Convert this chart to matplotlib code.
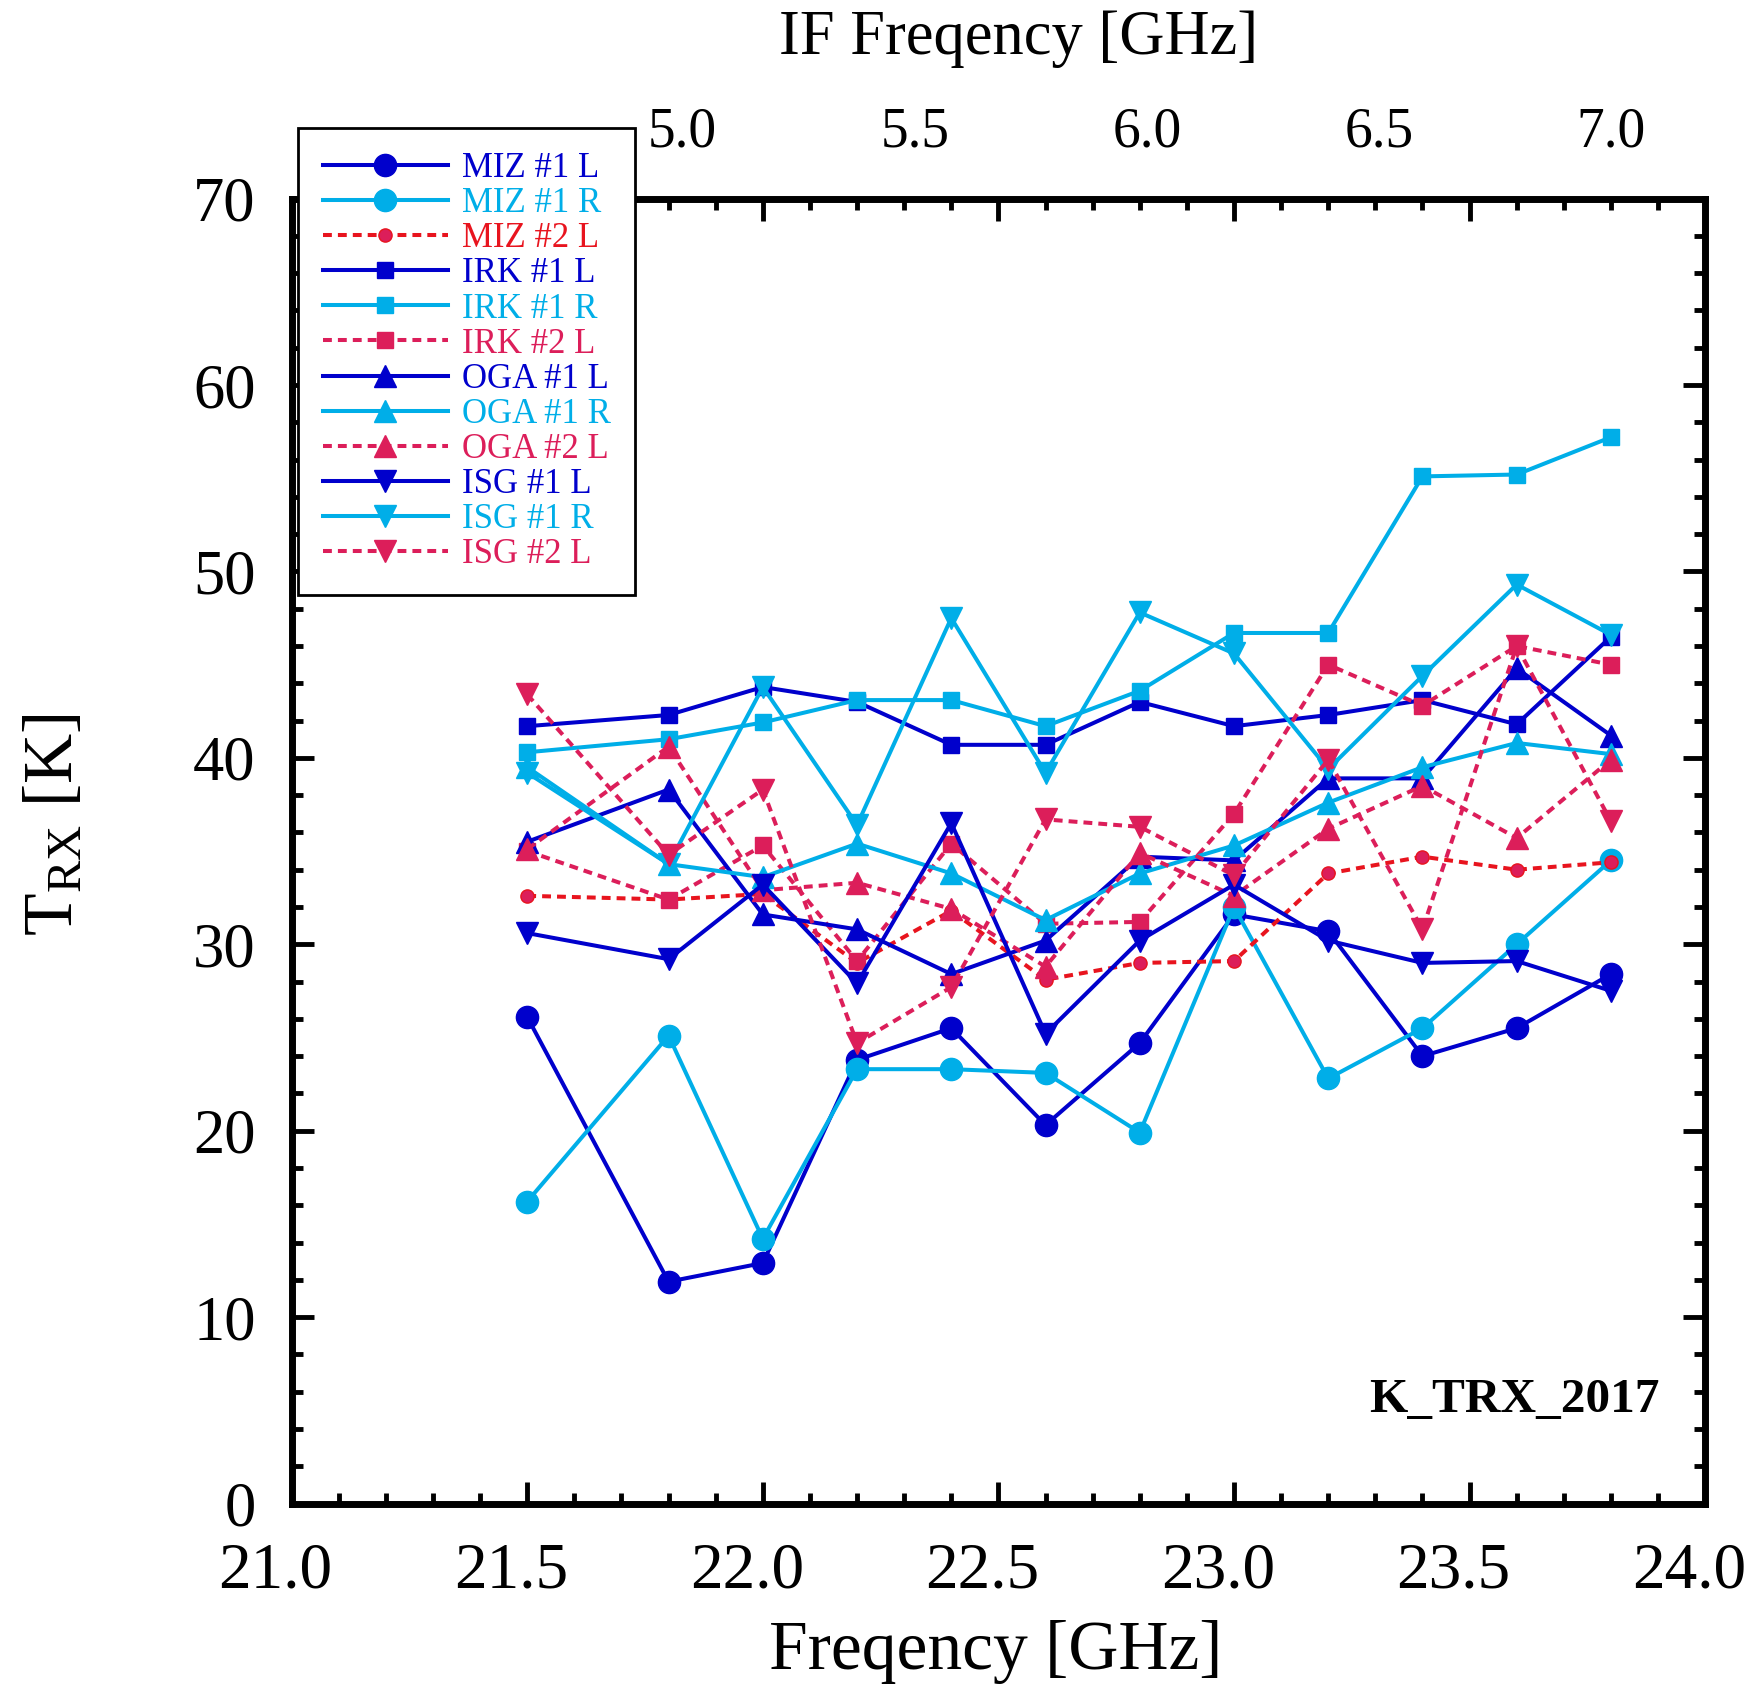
import matplotlib
matplotlib.use('Agg')
import matplotlib.pyplot as plt
import matplotlib.transforms as mtransforms
from matplotlib.ticker import MultipleLocator, NullLocator, FixedLocator

plt.rcParams['font.family'] = ['Liberation Serif', 'DejaVu Serif']
plt.rcParams['mathtext.fontset'] = 'custom'
plt.rcParams['mathtext.rm'] = 'Liberation Serif'
plt.rcParams['mathtext.it'] = 'Liberation Serif:italic'

# RF frequency [GHz]
freq = [21.5, 21.8, 22.0, 22.2, 22.4, 22.6, 22.8, 23.0, 23.2, 23.4, 23.6, 23.8]

# Receiver noise temperature [K]
miz1_l = [26.1, 11.9, 12.9, 23.8, 25.5, 20.3, 24.7, 31.6, 30.7, 24.0, 25.5, 28.4]
miz1_r = [16.2, 25.1, 14.2, 23.3, 23.3, 23.1, 19.9, 32.0, 22.8, 25.5, 30.0, 34.5]
miz2_l = [32.6, 32.4, 32.7, 29.0, 31.8, 28.1, 29.0, 29.1, 33.8, 34.7, 34.0, 34.4]
irk1_l = [41.7, 42.3, 43.8, 43.0, 40.7, 40.7, 43.0, 41.7, 42.3, 43.1, 41.8, 46.5]
irk1_r = [40.3, 41.0, 41.9, 43.1, 43.1, 41.7, 43.6, 46.7, 46.7, 55.1, 55.2, 57.2]
irk2_l = [35.0, 32.4, 35.3, 29.1, 35.4, 31.1, 31.2, 37.0, 45.0, 42.8, 46.0, 45.0]
oga1_l = [35.5, 38.3, 31.6, 30.8, 28.4, 30.2, 34.7, 34.5, 38.9, 38.9, 44.8, 41.2]
oga1_r = [39.5, 34.3, 33.6, 35.4, 33.8, 31.3, 33.8, 35.3, 37.6, 39.5, 40.8, 40.2]
oga2_l = [35.1, 40.6, 32.9, 33.3, 31.9, 28.8, 34.9, 32.6, 36.2, 38.5, 35.7, 39.9]
isg1_l = [30.6, 29.2, 33.2, 27.9, 36.5, 25.2, 30.2, 33.2, 30.2, 29.0, 29.1, 27.5]
isg1_r = [39.2, 34.3, 43.8, 36.4, 47.5, 39.2, 47.8, 45.6, 39.4, 44.4, 49.3, 46.6]
isg2_l = [43.4, 34.8, 38.3, 24.7, 27.7, 36.7, 36.3, 33.7, 39.9, 30.8, 46.0, 36.6]

labels = ['MIZ #1 L', 'MIZ #1 R', 'MIZ #2 L',
          'IRK #1 L', 'IRK #1 R', 'IRK #2 L',
          'OGA #1 L', 'OGA #1 R', 'OGA #2 L',
          'ISG #1 L', 'ISG #1 R', 'ISG #2 L']
series = [miz1_l, miz1_r, miz2_l, irk1_l, irk1_r, irk2_l,
          oga1_l, oga1_r, oga2_l, isg1_l, isg1_r, isg2_l]

BLUE = '#0000CC'
CYAN = '#00AEE8'
RED = '#E8141E'
PINK = '#DC1E5A'
dots = (0, (2.2, 1.5))

styles = [
    dict(color=BLUE, ls='-', marker='o', ms=16, mfc=BLUE, mec=BLUE),
    dict(color=CYAN, ls='-', marker='o', ms=16, mfc=CYAN, mec=CYAN),
    dict(color=RED, ls=dots, marker='o', ms=9.5, mfc=PINK, mec=RED),
    dict(color=BLUE, ls='-', marker='s', ms=11, mfc=BLUE, mec=BLUE),
    dict(color=CYAN, ls='-', marker='s', ms=11, mfc=CYAN, mec=CYAN),
    dict(color=PINK, ls=dots, marker='s', ms=11, mfc=PINK, mec=PINK),
    dict(color=BLUE, ls='-', marker='^', ms=16, mfc=BLUE, mec=BLUE),
    dict(color=CYAN, ls='-', marker='^', ms=16, mfc=CYAN, mec=CYAN),
    dict(color=PINK, ls=dots, marker='^', ms=16, mfc=PINK, mec=PINK),
    dict(color=BLUE, ls='-', marker='v', ms=16, mfc=BLUE, mec=BLUE),
    dict(color=CYAN, ls='-', marker='v', ms=16, mfc=CYAN, mec=CYAN),
    dict(color=PINK, ls=dots, marker='v', ms=16, mfc=PINK, mec=PINK),
]

fig = plt.figure(figsize=(17.59, 16.92), dpi=100)
ax = fig.add_axes([0.1658, 0.1114, 0.8036, 0.7712])

handles = []
for y, lab, st in zip(series, labels, styles):
    h, = ax.plot(freq, y, lw=2.9, label=lab, **st)
    handles.append(h)

ax.set_xlim(21.0, 24.0)
ax.set_ylim(0, 70)
ax.xaxis.set_major_locator(MultipleLocator(0.5))
ax.xaxis.set_minor_locator(MultipleLocator(0.1))
ax.yaxis.set_major_locator(MultipleLocator(10))
ax.yaxis.set_minor_locator(MultipleLocator(2))
ax.xaxis.set_major_formatter(lambda v, p: f'{v:.1f}')

for s in ax.spines.values():
    s.set_linewidth(5)
ax.tick_params(which='both', direction='in', top=True, right=True, width=3.5)
ax.tick_params(which='major', length=16)
ax.tick_params(which='minor', length=8)
ax.tick_params(axis='x', labelsize=47, pad=28)
ax.tick_params(axis='y', labelsize=45, pad=26)

# bottom tick labels sit a little left of their ticks
shift = mtransforms.ScaledTranslation(-16 / 100, 0, fig.dpi_scale_trans)
for lbl in ax.get_xticklabels():
    lbl.set_transform(lbl.get_transform() + shift)

# IF frequency scale on top
def rf2if(x):
    return 5.0 + (x - 21.83) / 0.985

def if2rf(x):
    return 21.83 + (x - 5.0) * 0.985

sec = ax.secondary_xaxis('top', functions=(rf2if, if2rf))
sec.xaxis.set_major_locator(FixedLocator([5.0, 5.5, 6.0, 6.5, 7.0]))
sec.xaxis.set_minor_locator(NullLocator())
sec.xaxis.set_major_formatter(lambda v, p: f'{v:.1f}')
sec.tick_params(length=0, labelsize=40, pad=29)
sec.spines['top'].set_visible(False)
fig.text(0.579, 0.977, 'IF Freqency [GHz]', fontsize=45, ha='center', va='center')

ax.set_xlabel('Freqency [GHz]', fontsize=50, va='center')
ax.xaxis.set_label_coords(0.498, -0.114)
ax.set_ylabel(r'T$_{\mathrm{RX}}$ [K]', fontsize=50, va='center')
ax.yaxis.set_label_coords(-0.167, 0.52)

ax.text(0.968, 0.079, 'K_TRX_2017', transform=ax.transAxes, fontsize=35.5,
        fontweight='bold', ha='right', va='center')

leg = ax.legend(handles=handles, loc='upper left',
                bbox_to_anchor=(0.1696, 0.9244), bbox_transform=fig.transFigure,
                fontsize=25, labelcolor='linecolor', fancybox=False,
                framealpha=1, edgecolor='black', handlelength=3.6,
                handletextpad=0.42, labelspacing=0.06, borderpad=0.7,
                borderaxespad=0)
leg.get_frame().set_linewidth(2)

fig.savefig('out.png', dpi=100)
